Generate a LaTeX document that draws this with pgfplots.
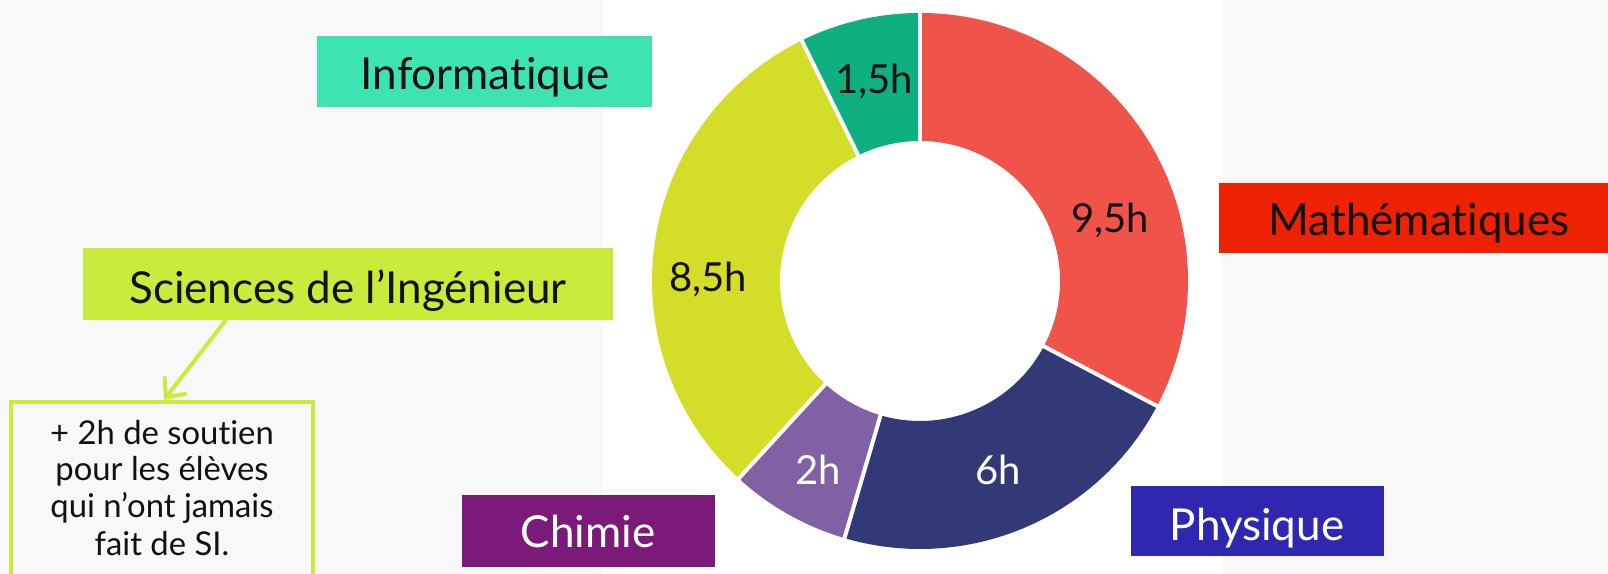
\documentclass[border=0pt]{standalone}
\usepackage{pgfplots}
\usepackage{pgfplotstable}
\pgfplotsset{compat=1.18}
\usetikzlibrary{calc,arrows.meta}
\usepackage{fontspec}
\setmainfont{Lato}[Ligatures={NoCommon}]
\definecolor{mathc}{HTML}{EF5349}
\definecolor{physc}{HTML}{313A76}
\definecolor{chimc}{HTML}{8062A4}
\definecolor{sic}{HTML}{D4DE28}
\definecolor{infoc}{HTML}{0FB07F}
\definecolor{infobox}{HTML}{3DE3B0}
\definecolor{sibox}{HTML}{CAEB3B}
\definecolor{mathbox}{HTML}{EE2200}
\definecolor{physbox}{HTML}{2F27B0}
\definecolor{chimbox}{HTML}{7B1A78}
\definecolor{bgtex}{HTML}{F8F8F8}
\definecolor{txt}{HTML}{111111}

\pgfplotstableread{
subject value
Mathematiques 9
Physique 6
Chimie 2
SI 8.5
Informatique 2
}\hours

\newcommand\wedgeseg[3]{%
  \fill[#3] ($(axis cs:920,293)+(#1:67pt)$) arc[start angle=#1, end angle=#2, radius=67pt]
     -- ($(axis cs:920,293)+(#2:35pt)$) arc[start angle=#2, end angle=#1, radius=35pt] -- cycle;}
\newcommand\gapline[1]{%
  \draw[white, line width=1pt] ($(axis cs:920,293)+(#1:34pt)$) -- ($(axis cs:920,293)+(#1:68pt)$);}

\begin{document}
\begin{tikzpicture}
\pgfplotstablegetelem{0}{value}\of\hours \pgfmathsetmacro\va{\pgfplotsretval}
\pgfplotstablegetelem{1}{value}\of\hours \pgfmathsetmacro\vb{\pgfplotsretval}
\pgfplotstablegetelem{2}{value}\of\hours \pgfmathsetmacro\vc{\pgfplotsretval}
\pgfplotstablegetelem{3}{value}\of\hours \pgfmathsetmacro\vd{\pgfplotsretval}
\pgfplotstablegetelem{4}{value}\of\hours \pgfmathsetmacro\ve{\pgfplotsretval}
\pgfmathsetmacro\tot{\va+\vb+\vc+\vd+\ve}
\pgfmathsetmacro\aA{90}
\pgfmathsetmacro\aB{\aA-360*\va/\tot}
\pgfmathsetmacro\aC{\aB-360*\vb/\tot}
\pgfmathsetmacro\aD{\aC-360*\vc/\tot}
\pgfmathsetmacro\aE{\aD-360*\vd/\tot}
\pgfmathsetmacro\aF{\aE-360*\ve/\tot}
\useasboundingbox (0,0) rectangle (402pt,143.5pt);
\begin{axis}[
  scale only axis, width=402pt, height=143.5pt,
  xmin=0, xmax=1608, ymin=0, ymax=574,
  hide axis, clip=false,
  every node/.append style={font=\fontsize{11}{13}\selectfont, inner sep=0pt},
]
% background
\fill[white] (axis cs:0,0) rectangle (axis cs:1608,574);
\fill[bgtex] (axis cs:0,0) rectangle (axis cs:603,574);
\fill[bgtex] (axis cs:1222,0) rectangle (axis cs:1608,574);
% donut
\wedgeseg{\aA}{\aB}{mathc}
\wedgeseg{\aB}{\aC}{physc}
\wedgeseg{\aC}{\aD}{chimc}
\wedgeseg{\aD}{\aE}{sic}
\wedgeseg{\aE}{\aF}{infoc}
\gapline{\aA}\gapline{\aB}\gapline{\aC}\gapline{\aD}\gapline{\aE}
% segment labels
\node[anchor=base, text=txt] at (axis cs:874,480) {1,5h};
\node[anchor=base, text=txt] at (axis cs:1110,341) {9,5h};
\node[anchor=base, text=txt] at (axis cs:708,282) {8,5h};
\node[anchor=base, text=white] at (axis cs:818,89) {2h};
\node[anchor=base, text=white] at (axis cs:998,89) {6h};
% label boxes
\begin{scope}[every node/.append style={font=\fontsize{11}{13}\selectfont}]
\fill[infobox] (axis cs:317,467) rectangle (axis cs:652,538);
\node[anchor=base, text=txt] at (axis cs:485,484) {Informatique};
\fill[sibox] (axis cs:83,254) rectangle (axis cs:613,326);
\node[anchor=base, text=txt] at (axis cs:348,270.5) {Sciences de l’Ingénieur};
\fill[mathbox] (axis cs:1219,321) rectangle (axis cs:1608,391);
\node[anchor=base, text=txt] at (axis cs:1419,338) {Mathématiques};
\fill[physbox] (axis cs:1131,18) rectangle (axis cs:1384,88);
\node[anchor=base, text=white] at (axis cs:1257,33) {Physique};
\fill[chimbox] (axis cs:462,7) rectangle (axis cs:715,79);
\node[anchor=base, text=white] at (axis cs:588,26) {Chimie};
\end{scope}
% arrow and note
\draw[sibox, line width=1pt, -{Straight Barb[length=4pt,width=7pt]}] (axis cs:226,254) -- (axis cs:164,174);
\draw[sibox, line width=0.9pt] (axis cs:11,0) -- (axis cs:11,172) -- (axis cs:313,172) -- (axis cs:313,0);
\begin{scope}[every node/.append style={font=\fontsize{8.2}{9}\selectfont, text=txt, anchor=base}]
\node at (axis cs:162,129) {+ 2h de soutien};
\node at (axis cs:162,93) {pour les élèves};
\node at (axis cs:162,56) {qui n’ont jamais};
\node at (axis cs:162,18) {fait de SI.};
\end{scope}
\end{axis}
\end{tikzpicture}
\end{document}
